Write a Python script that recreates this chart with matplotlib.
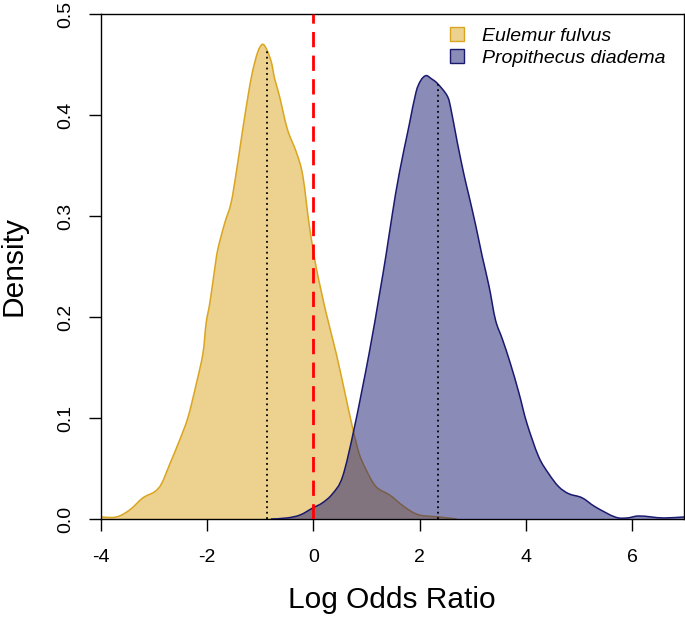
import numpy as np
import matplotlib
matplotlib.use("Agg")
import matplotlib.pyplot as plt
from matplotlib.patches import Patch, PathPatch
from matplotlib.path import Path

plt.rcParams['font.family'] = ['Liberation Sans', 'DejaVu Sans']

# ---- data ----
ef_x = [-4.0, -3.71, -3.46, -3.21, -2.99, -2.86, -2.70, -2.52, -2.36, -2.20,
        -2.08, -2.02, -1.95, -1.86, -1.80, -1.67, -1.55, -1.45, -1.33, -1.23,
        -1.15, -1.05, -0.96, -0.88, -0.79, -0.73, -0.64, -0.49, -0.32, -0.20,
        -0.075, 0.05, 0.24, 0.43, 0.61, 0.74, 0.86, 0.99, 1.18, 1.43,
        1.55, 1.74, 1.99, 2.37, 2.7]
ef_y = [0.002, 0.002, 0.009, 0.021, 0.027, 0.035, 0.055, 0.078, 0.101, 0.135,
        0.164, 0.194, 0.214, 0.247, 0.267, 0.293, 0.313, 0.344, 0.386, 0.419,
        0.442, 0.462, 0.470, 0.465, 0.452, 0.436, 0.419, 0.386, 0.363, 0.340,
        0.290, 0.250, 0.204, 0.164, 0.121, 0.090, 0.065, 0.049, 0.032, 0.024,
        0.019, 0.011, 0.004, 0.002, 0.0]

pd_x = [-0.8, -0.5, -0.25, -0.01, 0.17, 0.36, 0.55, 0.77, 1.05, 1.24,
        1.37, 1.49, 1.62, 1.80, 1.93, 2.02, 2.12, 2.22, 2.34, 2.52,
        2.59, 2.71, 2.84, 2.93, 3.06, 3.18, 3.31, 3.43, 3.56, 3.71,
        3.87, 4.02, 4.24, 4.43, 4.62, 4.81, 5.06, 5.31, 5.68, 5.9,
        6.12, 6.37, 6.6, 6.98]
pd_y = [0.0, 0.001, 0.004, 0.011, 0.016, 0.025, 0.042, 0.090, 0.164, 0.221,
        0.262, 0.303, 0.343, 0.389, 0.422, 0.434, 0.439, 0.436, 0.431, 0.419,
        0.406, 0.373, 0.340, 0.320, 0.290, 0.260, 0.230, 0.197, 0.178, 0.154,
        0.125, 0.095, 0.062, 0.045, 0.032, 0.025, 0.021, 0.012, 0.002, 0.001,
        0.003, 0.002, 0.001, 0.002]

medians = {"Eulemur fulvus": -0.88, "Propithecus diadema": 2.34}
species = ["Eulemur fulvus", "Propithecus diadema"]
x_ticks = [-4, -2, 0, 2, 4, 6]
y_ticks = [0.0, 0.1, 0.2, 0.3, 0.4, 0.5]
y_tick_labels = ["0.0", "0.1", "0.2", "0.3", "0.4", "0.5"]

# ---- styling ----
gold = (218/255, 165/255, 32/255)
navy = (25/255, 25/255, 112/255)


def smooth_path(xs, ys, closed):
    """Catmull-Rom curve through the read points, as cubic Bezier path."""
    p = np.column_stack([xs, ys]).astype(float)
    verts = [p[0]]
    codes = [Path.MOVETO]
    n = len(p)
    for i in range(n - 1):
        p0 = p[i - 1] if i > 0 else p[i]
        p1 = p[i]
        p2 = p[i + 1]
        p3 = p[i + 2] if i + 2 < n else p[i + 1]
        c1 = p1 + (p2 - p0) / 6.0
        c2 = p2 - (p3 - p1) / 6.0
        verts += [c1, c2, p2]
        codes += [Path.CURVE4] * 3
    if closed:
        verts += [(xs[-1], 0.0), (xs[0], 0.0), (xs[0], ys[0])]
        codes += [Path.LINETO, Path.LINETO, Path.CLOSEPOLY]
    return Path(verts, codes)


W, H = 685, 619
fig = plt.figure(figsize=(W/100, H/100), dpi=100)
ax = fig.add_axes([101/W, 1-519/H, (684-101)/W, (519-14)/H])

for xs, ys, col, z in [(ef_x, ef_y, gold, 2), (pd_x, pd_y, navy, 3)]:
    ax.add_patch(PathPatch(smooth_path(xs, ys, True), facecolor=col + (0.5,),
                           edgecolor='none', zorder=z))
    ax.add_patch(PathPatch(smooth_path(xs, ys, False), facecolor='none',
                           edgecolor=col, lw=1.1, zorder=z))

for xs, ys, name in [(ef_x, ef_y, species[0]), (pd_x, pd_y, species[1])]:
    m = medians[name]
    top = np.interp(m, xs, ys)
    ax.plot([m, m], [0, top], color='black', lw=1.3, linestyle=(0, (1, 2)), zorder=4)

ax.axvline(0, color=(1, 0, 0), lw=2.0, dashes=(5.5, 3), zorder=5)

ax.set_xlim(-4, 6.98)
ax.set_ylim(0, 0.5)
ax.set_xticks(x_ticks)
ax.set_xticklabels([str(t) for t in x_ticks])
ax.set_yticks(y_ticks)
ax.set_yticklabels(y_tick_labels, rotation=90, va='center')
ax.tick_params(axis='both', direction='out', length=8.5, width=1, labelsize=14, color='black')
ax.tick_params(axis='x', pad=13)
ax.tick_params(axis='y', pad=11)
for s in ax.spines.values():
    s.set_linewidth(1.0)
    s.set_color('black')

fig.text(392/W, 1-608/H, "Log Odds Ratio", ha='center', va='baseline', fontsize=21.5)
fig.text(14/W, 1-266/H, "Density", ha='center', va='center', rotation=90, fontsize=21.5)

handles = [Patch(facecolor=gold + (0.5,), edgecolor=gold, lw=1.0),
           Patch(facecolor=navy + (0.5,), edgecolor=navy, lw=1.0)]
leg = ax.legend(handles, species, loc='upper left', bbox_to_anchor=(450/W, 1-27/H),
                bbox_transform=fig.transFigure, frameon=False, fontsize=14,
                handlelength=0.7, handleheight=0.7, handletextpad=0.95,
                labelspacing=0.25, borderpad=0, borderaxespad=0)
for t in leg.get_texts():
    t.set_fontstyle('italic')

fig.savefig("out.png", dpi=100)
